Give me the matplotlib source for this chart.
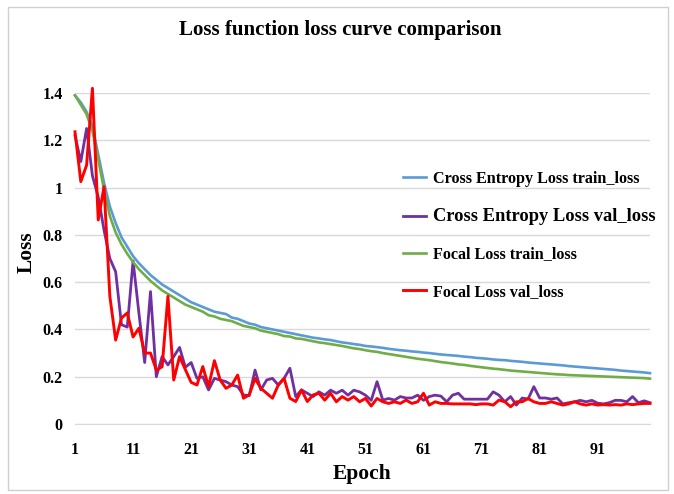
import matplotlib
matplotlib.use("Agg")
import matplotlib.pyplot as plt
from matplotlib.patches import Rectangle

plt.rcParams['font.family'] = ['Liberation Serif', 'DejaVu Serif']
plt.rcParams['font.weight'] = 'bold'

# Epochs and loss values
epochs = list(range(1, 101))

ce_train = [1.39, 1.36, 1.32, 1.26, 1.14, 1.02, 0.92, 0.85, 0.79, 0.75,
            0.71, 0.68, 0.655, 0.63, 0.61, 0.59, 0.575, 0.56, 0.545, 0.53,
            0.515, 0.505, 0.495, 0.485, 0.475, 0.47, 0.465, 0.45, 0.445, 0.435,
            0.425, 0.42, 0.41, 0.405, 0.40, 0.395, 0.39, 0.385, 0.38, 0.375,
            0.37, 0.365, 0.362, 0.358, 0.355, 0.35, 0.345, 0.342, 0.338, 0.335,
            0.33, 0.328, 0.325, 0.322, 0.318, 0.315, 0.312, 0.31, 0.307, 0.305,
            0.302, 0.30, 0.297, 0.294, 0.292, 0.29, 0.288, 0.285, 0.283, 0.28,
            0.278, 0.276, 0.273, 0.271, 0.27, 0.267, 0.265, 0.263, 0.26, 0.258,
            0.256, 0.254, 0.252, 0.25, 0.248, 0.245, 0.243, 0.241, 0.239, 0.237,
            0.235, 0.233, 0.231, 0.229, 0.226, 0.224, 0.222, 0.22, 0.218, 0.215]

ce_val = [1.22, 1.11, 1.25, 1.05, 0.96, 0.82, 0.70, 0.644, 0.42, 0.41,
          0.69, 0.47, 0.26, 0.56, 0.20, 0.285, 0.25, 0.285, 0.324, 0.24,
          0.26, 0.193, 0.20, 0.144, 0.193, 0.186, 0.179, 0.165, 0.158, 0.123,
          0.12, 0.228, 0.144, 0.186, 0.193, 0.165, 0.193, 0.236, 0.116, 0.144,
          0.13, 0.116, 0.136, 0.122, 0.143, 0.13, 0.143, 0.122, 0.143, 0.136,
          0.122, 0.10, 0.179, 0.101, 0.108, 0.101, 0.116, 0.11, 0.11, 0.122,
          0.10, 0.116, 0.122, 0.118, 0.094, 0.122, 0.13, 0.105, 0.105, 0.105,
          0.105, 0.105, 0.136, 0.122, 0.094, 0.116, 0.08, 0.11, 0.105, 0.158,
          0.11, 0.11, 0.105, 0.11, 0.085, 0.09, 0.094, 0.10, 0.094, 0.10,
          0.088, 0.085, 0.09, 0.10, 0.10, 0.094, 0.116, 0.09, 0.098, 0.09]

focal_train = [1.39, 1.35, 1.31, 1.24, 1.12, 0.99, 0.88, 0.81, 0.76, 0.72,
               0.685, 0.655, 0.63, 0.605, 0.585, 0.565, 0.55, 0.535, 0.52, 0.505,
               0.495, 0.485, 0.475, 0.46, 0.455, 0.445, 0.44, 0.435, 0.425, 0.415,
               0.41, 0.405, 0.395, 0.39, 0.385, 0.38, 0.372, 0.37, 0.362, 0.36,
               0.355, 0.35, 0.345, 0.342, 0.338, 0.334, 0.33, 0.325, 0.32, 0.317,
               0.312, 0.308, 0.305, 0.30, 0.296, 0.292, 0.288, 0.284, 0.28, 0.276,
               0.273, 0.27, 0.266, 0.262, 0.259, 0.256, 0.252, 0.25, 0.246, 0.243,
               0.24, 0.237, 0.234, 0.232, 0.229, 0.226, 0.224, 0.222, 0.22, 0.218,
               0.216, 0.214, 0.212, 0.21, 0.209, 0.207, 0.206, 0.205, 0.204, 0.203,
               0.202, 0.201, 0.20, 0.199, 0.198, 0.197, 0.196, 0.195, 0.194, 0.192]

focal_val = [1.236, 1.025, 1.095, 1.42, 0.863, 1.004, 0.54, 0.355, 0.448, 0.47,
             0.368, 0.405, 0.30, 0.30, 0.228, 0.242, 0.54, 0.186, 0.285, 0.23,
             0.176, 0.165, 0.243, 0.158, 0.268, 0.186, 0.151, 0.165, 0.207, 0.109,
             0.123, 0.193, 0.151, 0.13, 0.109, 0.165, 0.193, 0.109, 0.095, 0.144,
             0.095, 0.123, 0.13, 0.101, 0.13, 0.094, 0.116, 0.101, 0.116, 0.094,
             0.108, 0.076, 0.108, 0.094, 0.087, 0.094, 0.087, 0.101, 0.087, 0.094,
             0.13, 0.08, 0.094, 0.087, 0.087, 0.085, 0.085, 0.085, 0.085, 0.082,
             0.085, 0.085, 0.08, 0.101, 0.094, 0.073, 0.094, 0.094, 0.108, 0.094,
             0.087, 0.087, 0.094, 0.087, 0.08, 0.085, 0.094, 0.085, 0.08, 0.085,
             0.08, 0.082, 0.08, 0.082, 0.08, 0.085, 0.082, 0.085, 0.087, 0.087]

labels = ['Cross Entropy Loss train_loss', 'Cross Entropy Loss val_loss',
          'Focal Loss train_loss', 'Focal Loss val_loss']
colors = ['#5b9bd5', '#7030a0', '#70ad47', '#ff0000']
x_ticks = list(range(1, 101, 10))
y_ticks = [0, 0.2, 0.4, 0.6, 0.8, 1.0, 1.2, 1.4]
y_tick_labels = ['0', '0.2', '0.4', '0.6', '0.8', '1', '1.2', '1.4']

fig = plt.figure(figsize=(6.74, 4.94), dpi=100)
fig.patches.append(Rectangle((8 / 674, 4 / 494), 660 / 674, 483 / 494,
                             transform=fig.transFigure, fill=False,
                             edgecolor='#d0d0d0', linewidth=1))
ax = fig.add_axes([75 / 674, 1 - 424 / 494, 575 / 674, 331 / 494])

series = [ce_train, ce_val, focal_train, focal_val]
widths = [1.9, 2.0, 1.9, 2.1]
for vals, lab, c, w in zip(series, labels, colors, widths):
    ax.plot(epochs, vals, color=c, lw=w, label=lab, clip_on=False)

ax.set_xlim(1, 100)
ax.set_ylim(0, 1.4)
ax.set_xticks(x_ticks)
ax.set_yticks(y_ticks)
ax.set_yticklabels(y_tick_labels)
ax.tick_params(length=0, labelsize=11.5)
ax.tick_params(axis='x', pad=13)
ax.tick_params(axis='y', pad=9)
ax.grid(axis='y', color='#d9d9d9', lw=1)
ax.set_axisbelow(True)
for s in ['top', 'right', 'left']:
    ax.spines[s].set_visible(False)
ax.spines['bottom'].set_color('#d9d9d9')

ax.set_xlabel('Epoch', fontsize=15.5, fontweight='bold', labelpad=4)
ax.set_ylabel('Loss', fontsize=15.5, fontweight='bold', labelpad=0)
ax.yaxis.set_label_coords(-0.066, 0.52)
fig.text(0.505, 1 - 30 / 494, 'Loss function loss curve comparison',
         ha='center', va='center', fontsize=15, fontweight='bold')

leg = ax.legend(loc='upper left', bbox_to_anchor=(395 / 674, 1 - 163 / 494),
                bbox_transform=fig.transFigure, frameon=False, fontsize=11.6,
                handlelength=1.45, handletextpad=0.4, labelspacing=1.32,
                borderpad=0)
leg.get_texts()[1].set_fontsize(13.3)

fig.savefig('out.png', dpi=100)
